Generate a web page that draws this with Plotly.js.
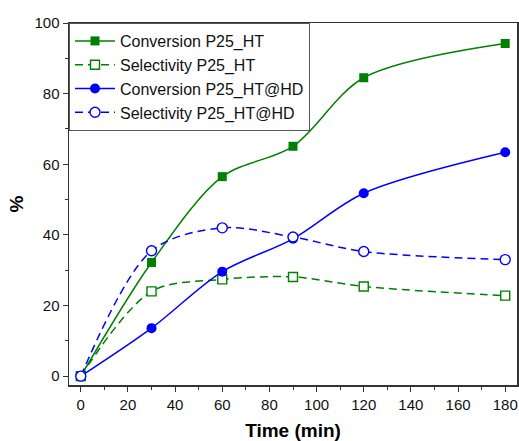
<!DOCTYPE html>
<html>
<head>
<meta charset="utf-8">
<script src="https://cdn.plot.ly/plotly-3.0.1.min.js"></script>
<style>html,body{margin:0;padding:0;background:#fff;}#chart{width:519px;height:441px;}</style>
</head>
<body>
<div id="chart"></div>
<script>
var time = [0, 30, 60, 90, 120, 180];
var convHT = [0, 32.2, 56.5, 65.1, 84.5, 94.2];
var selHT = [0, 24.0, 27.4, 28.1, 25.4, 22.8];
var convHD = [0, 13.6, 29.6, 38.9, 51.8, 63.4];
var selHD = [0, 35.5, 42.0, 39.4, 35.3, 33.0];
var names = ['Conversion P25_HT', 'Selectivity P25_HT', 'Conversion P25_HT@HD', 'Selectivity P25_HT@HD'];

var green = '#008000', blue = '#0000ff';
function tr(y, name, color, dash, symbol, open) {
  return {
    x: time, y: y, name: name, type: 'scatter', mode: 'lines+markers',
    line: {color: color, width: 1.5, dash: dash, shape: 'spline', smoothing: 0.9},
    marker: {symbol: symbol, size: symbol === 'square' ? 9 : 10,
      color: open ? '#ffffff' : color, line: {color: color, width: open ? 1.4 : 0}}
  };
}
var data = [
  tr(convHT, names[0], green, 'solid', 'square', false),
  tr(selHT, names[1], green, '8px,5px', 'square', true),
  tr(convHD, names[2], blue, 'solid', 'circle', false),
  tr(selHD, names[3], blue, '8px,5px', 'circle', true)
];

var font = 'Arial, "Liberation Sans", sans-serif';
var layout = {
  width: 519, height: 441,
  margin: {l: 69, r: 2, t: 23, b: 56},
  paper_bgcolor: '#fff', plot_bgcolor: '#fff',
  font: {family: font, color: '#000'},
  showlegend: true,
  legend: {x: 0, y: 1, xanchor: 'left', yanchor: 'top', bgcolor: '#fff',
    bordercolor: '#555', borderwidth: 1, font: {size: 16, family: font, color: '#111'},
    tracegroupgap: 0, itemwidth: 40},
  xaxis: {
    range: [-5, 185], tickvals: [0,20,40,60,80,100,120,140,160,180],
    ticks: 'outside', ticklen: 5, tickwidth: 1, tickcolor: '#333',
    minor: {tickvals: [10,30,50,70,90,110,130,150,170], ticks: 'outside', ticklen: 3, tickcolor: '#333'},
    showline: true, linecolor: '#333', linewidth: 1.5, mirror: true,
    showgrid: false, zeroline: false,
    tickfont: {size: 15, family: font, color: '#111'},
    title: {text: '<b>Time (min)</b>', font: {size: 19, family: font, color: '#000'}, standoff: 13}
  },
  yaxis: {
    range: [-2.5, 100], tickvals: [0,20,40,60,80,100],
    ticks: 'outside', ticklen: 5, tickwidth: 1, tickcolor: '#333',
    minor: {tickvals: [10,30,50,70,90], ticks: 'outside', ticklen: 3, tickcolor: '#333'},
    showline: true, linecolor: '#333', linewidth: 1.5, mirror: true,
    showgrid: false, zeroline: false,
    tickfont: {size: 15, family: font, color: '#111'},
    title: {text: '<b>%</b>', font: {size: 19, family: font, color: '#000'}, standoff: 6}
  }
};
Plotly.newPlot('chart', data, layout, {displayModeBar: false, staticPlot: true});
</script>
</body>
</html>
